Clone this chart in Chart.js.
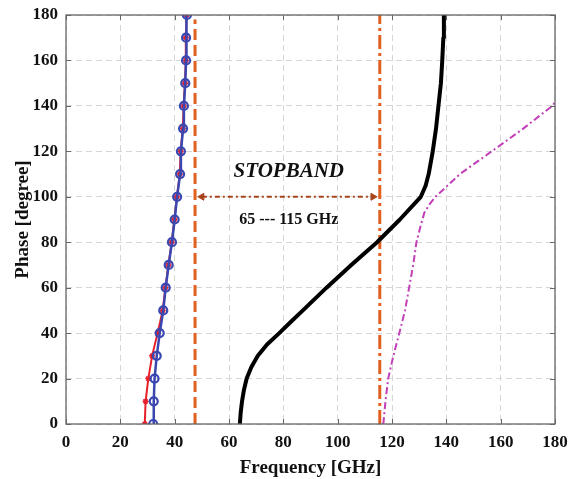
<!DOCTYPE html>
<html>
<head>
<meta charset="utf-8">
<script src="https://cdn.jsdelivr.net/npm/chart.js@4.4.1/dist/chart.umd.min.js"></script>
<style>
  html, body { margin: 0; padding: 0; background: #fff; }
  #wrap { width: 571px; height: 479px; position: relative; }
</style>
</head>
<body>
<div id="wrap"><canvas id="c"></canvas></div>
<script>
// phase steps (degree) for the two simulated branches
const phaseSteps = [0, 10, 20, 30, 40, 50, 60, 70, 80, 90, 100, 110, 120, 130, 140, 150, 160, 170, 180];
const blueFreq = [32.1, 32.3, 32.6, 33.4, 34.5, 35.8, 36.7, 37.8, 39.0, 40.0, 40.9, 42.0, 42.3, 43.1, 43.4, 43.9, 44.2, 44.2, 44.5];
const redFreq = [29.0, 29.3, 30.3, 31.7, 33.7, 35.6, 36.6, 37.7, 38.9, 39.9, 40.8, 41.9, 42.2, 43.0, 43.3, 43.8, 44.1, 44.1, 44.4];

// upper branch (black solid)
const blackPhase = [0, 5, 10, 15, 20, 25, 30, 35, 40, 45, 50, 60, 70, 80, 90, 100, 105, 110, 120, 130, 140, 150, 160, 170, 180];
const blackFreq = [64.0, 64.3, 64.8, 65.5, 66.5, 68.2, 70.6, 74.0, 78.5, 82.8, 87.2, 95.9, 105.0, 114.5, 122.9, 130.6, 132.4, 133.5, 135.0, 136.2, 137.1, 138.0, 138.5, 138.9, 139.1];

// magenta dash-dot branch
const magPhase = [0, 10, 20, 30, 40, 50, 60, 70, 80, 87, 93, 97, 100, 110, 120, 130, 140, 141.5];
const magFreq = [116.8, 117.6, 118.6, 120.5, 122.7, 124.8, 126.3, 127.8, 129.0, 130.5, 131.9, 134.0, 136.0, 145.0, 156.7, 168.3, 179.0, 180.0];

// stopband markers
const bandEdges = [47.5, 115.5];
const bandPhase = [0, 180];
const arrowFreq = [50, 113];
const arrowPhase = [100, 100];

const xTicks = [0, 20, 40, 60, 80, 100, 120, 140, 160, 180];
const yTicks = [0, 20, 40, 60, 80, 100, 120, 140, 160, 180];

const serif = "'Liberation Serif', 'Times New Roman', serif";

function pts(xs, ys) {
  return xs.map((x, i) => ({ x: x, y: ys[i] }));
}

// box, inward ticks on all four sides + the stopband labels
const decorations = {
  id: "decorations",
  afterDraw(chart) {
    const ctx = chart.ctx;
    const xs = chart.scales.x, ys = chart.scales.y;
    const a = chart.chartArea;
    ctx.save();
    ctx.strokeStyle = "#666";
    ctx.lineWidth = 1.3;
    ctx.strokeRect(a.left, a.top, a.right - a.left, a.bottom - a.top);
    ctx.lineWidth = 1;
    ctx.beginPath();
    xTicks.forEach(v => {
      const px = Math.round(xs.getPixelForValue(v)) + 0.5;
      ctx.moveTo(px, a.bottom); ctx.lineTo(px, a.bottom - 5);
      ctx.moveTo(px, a.top); ctx.lineTo(px, a.top + 5);
    });
    yTicks.forEach(v => {
      const py = Math.round(ys.getPixelForValue(v)) + 0.5;
      ctx.moveTo(a.left, py); ctx.lineTo(a.left + 5, py);
      ctx.moveTo(a.right, py); ctx.lineTo(a.right - 5, py);
    });
    ctx.stroke();

    ctx.fillStyle = "#111";
    ctx.textAlign = "center";
    ctx.textBaseline = "middle";
    ctx.font = "italic bold 21px " + serif;
    ctx.fillText("STOPBAND", xs.getPixelForValue(82), ys.getPixelForValue(111));
    ctx.font = "bold 16px " + serif;
    ctx.fillText("65 --- 115 GHz", xs.getPixelForValue(82), ys.getPixelForValue(90));
    ctx.restore();
  }
};

new Chart(document.getElementById("c"), {
  type: "scatter",
  data: {
    datasets: [
      {
        data: pts(redFreq, phaseSteps),
        order: 2,
        showLine: true,
        borderColor: "#e8202a",
        borderWidth: 2,
        pointStyle: "star",
        pointRadius: 3,
        pointBorderColor: "#e8202a",
        pointBorderWidth: 1.5
      },
      {
        data: pts(blueFreq, phaseSteps),
        order: 1,
        showLine: true,
        borderColor: "#3a47b0",
        borderWidth: 2.5,
        pointStyle: "circle",
        pointRadius: 4,
        pointBorderColor: "#3a47b0",
        pointBackgroundColor: "rgba(0,0,0,0)",
        pointBorderWidth: 2.2
      },
      {
        data: pts(blackFreq, blackPhase),
        order: 3,
        clip: false,
        showLine: true,
        borderColor: "#000",
        borderWidth: 4,
        borderJoinStyle: "round",
        pointRadius: 0
      },
      {
        data: pts(magFreq, magPhase),
        order: 4,
        showLine: true,
        borderColor: "#c23fb8",
        borderWidth: 2,
        borderDash: [7, 3, 2, 3],
        pointRadius: 0
      },
      {
        data: pts([bandEdges[0], bandEdges[0]], [bandPhase[0], 178]),
        order: 5,
        showLine: true,
        borderColor: "#e2601f",
        borderWidth: 3,
        borderDash: [11, 5],
        pointRadius: 0
      },
      {
        data: pts([bandEdges[1], bandEdges[1]], bandPhase),
        order: 5,
        showLine: true,
        borderColor: "#e2601f",
        borderWidth: 3,
        borderDash: [14, 4, 3, 4],
        pointRadius: 0
      },
      {
        data: pts(arrowFreq, arrowPhase),
        order: 6,
        showLine: true,
        borderColor: "#a8441c",
        borderWidth: 2,
        borderDash: [5, 3, 2, 3],
        pointStyle: "triangle",
        pointRadius: 4,
        pointRotation: [-90, 90],
        pointBackgroundColor: "#a8441c",
        pointBorderColor: "#a8441c",
        pointBorderWidth: 1
      }
    ]
  },
  options: {
    responsive: true,
    maintainAspectRatio: false,
    animation: false,
    layout: { padding: { left: 8, right: 16, top: 15, bottom: 0 } },
    plugins: {
      legend: { display: false },
      tooltip: { enabled: false }
    },
    scales: {
      x: {
        type: "linear",
        min: 0,
        max: 180,
        afterBuildTicks: axis => { axis.ticks = xTicks.map(v => ({ value: v })); },
        afterFit: axis => {
          axis.height = 55;
          axis.paddingRight = 0;
          axis.paddingLeft = 0;
        },
        grid: { color: "#d6d6d6", drawTicks: false },
        border: { display: false, dash: [6, 4] },
        ticks: { padding: 8, color: "#111", font: { family: serif, size: 17, weight: "bold" } },
        title: {
          display: true,
          text: "Frequency [GHz]",
          color: "#111",
          padding: { top: 2, bottom: 0 },
          font: { family: serif, size: 19, weight: "bold" }
        }
      },
      y: {
        type: "linear",
        min: 0,
        max: 180,
        afterBuildTicks: axis => { axis.ticks = yTicks.map(v => ({ value: v })); },
        afterFit: axis => {
          axis.width = 58;
          axis.paddingTop = 0;
          axis.paddingBottom = 0;
        },
        grid: { color: "#d6d6d6", drawTicks: false },
        border: { display: false, dash: [6, 4] },
        ticks: { padding: 8, color: "#111", font: { family: serif, size: 17, weight: "bold" } },
        title: {
          display: true,
          text: "Phase [degree]",
          color: "#111",
          padding: { bottom: 0 },
          font: { family: serif, size: 19, weight: "bold" }
        }
      }
    }
  },
  plugins: [decorations]
});
</script>
</body>
</html>
